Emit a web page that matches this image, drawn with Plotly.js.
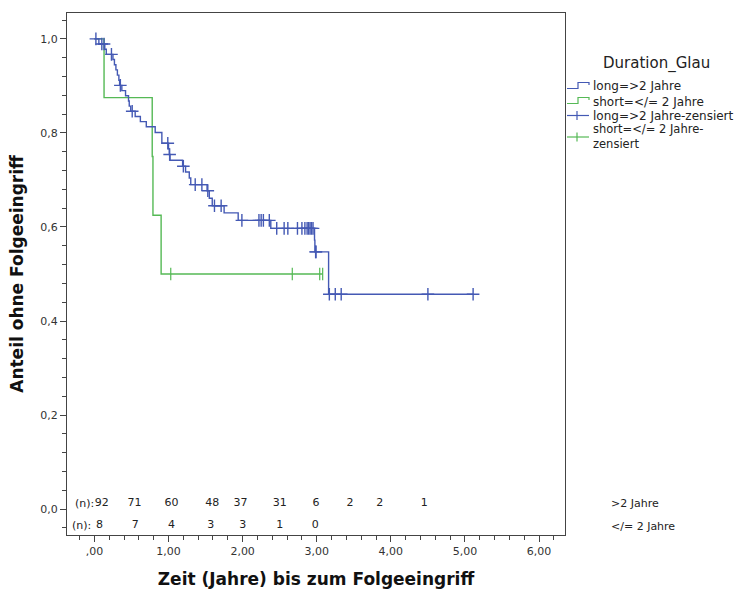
<!DOCTYPE html>
<html>
<head>
<meta charset="utf-8">
<script src="https://cdn.plot.ly/plotly-3.0.1.min.js"></script>
<style>html,body{margin:0;padding:0;background:#fff;}#chart{width:744px;height:592px;}</style>
</head>
<body>
<div id="chart"></div>
<script>
// ---- data ----
const longStepT = [0, 0.06, 0.14, 0.16, 0.25, 0.27, 0.29, 0.31, 0.33, 0.34, 0.37, 0.42, 0.46, 0.47, 0.49, 0.55, 0.62, 0.70, 0.82, 0.91, 1.00, 1.01, 1.02, 1.19, 1.23, 1.28, 1.30, 1.52, 1.55, 1.59, 1.75, 1.94, 2.38, 2.97, 2.975, 3.16];
const longStepS = [1, 0.989, 0.978, 0.967, 0.956, 0.945, 0.934, 0.923, 0.912, 0.901, 0.890, 0.879, 0.868, 0.857, 0.846, 0.835, 0.824, 0.813, 0.801, 0.778, 0.766, 0.754, 0.742, 0.729, 0.717, 0.704, 0.690, 0.677, 0.661, 0.645, 0.630, 0.614, 0.597, 0.572, 0.547, 0.457];
const longCensT = [0.02, 0.10, 0.13, 0.23, 0.35, 0.51, 0.99, 1.015, 1.20, 1.36, 1.45, 1.53, 1.62, 1.71, 1.99, 2.22, 2.25, 2.28, 2.36, 2.46, 2.56, 2.61, 2.74, 2.80, 2.84, 2.87, 2.89, 2.91, 2.93, 2.95, 2.985, 2.99, 3.17, 3.25, 3.33, 4.50, 5.11];

const shortStepT = [0, 0.13, 0.78, 0.79, 0.90];
const shortStepS = [1, 0.875, 0.75, 0.625, 0.5];
const shortCensT = [1.03, 2.67, 3.04, 3.08];

const riskLongT = [0.10, 0.54, 1.04, 1.59, 1.97, 2.50, 2.99, 3.45, 3.85, 4.45];
const riskLongN = [92, 71, 60, 48, 37, 31, 6, 2, 2, 1];
const riskShortT = [0.07, 0.55, 1.04, 1.57, 2.00, 2.50, 2.98];
const riskShortN = [8, 7, 4, 3, 3, 1, 0];

const xTickVals = [0, 1, 2, 3, 4, 5, 6];
const xTickText = [',00', '1,00', '2,00', '3,00', '4,00', '5,00', '6,00'];
const yTickVals = [0, 0.2, 0.4, 0.6, 0.8, 1.0];
const yTickText = ['0,0', '0,2', '0,4', '0,6', '0,8', '1,0'];

// ---- helpers ----
function survAt(ts, ss, t) {
  let s = ss[0];
  for (let i = 0; i < ts.length; i++) { if (ts[i] <= t) s = ss[i]; }
  return s;
}
function curve(ts, ss, tEnd) {
  return { x: ts.concat([tEnd]), y: ss.concat([ss[ss.length - 1]]) };
}

const BLUE = '#4459b4';
const GREEN = '#55b955';
const FONT = 'DejaVu Sans, Verdana, sans-serif';

const longCurve = curve(longStepT, longStepS, longCensT[longCensT.length - 1]);
const shortCurve = curve(shortStepT, shortStepS, shortCensT[shortCensT.length - 1]);

const traces = [
  { x: shortCurve.x, y: shortCurve.y, mode: 'lines', line: { shape: 'hv', color: GREEN, width: 1.4 }, hoverinfo: 'skip' },
  { x: longCurve.x, y: longCurve.y, mode: 'lines', line: { shape: 'hv', color: BLUE, width: 1.4 }, hoverinfo: 'skip' },
  { x: shortCensT, y: shortCensT.map(t => survAt(shortStepT, shortStepS, t)), mode: 'markers',
    marker: { symbol: 'line-ns', size: 9, line: { color: GREEN, width: 1.2 } }, hoverinfo: 'skip' },
  { x: longCensT, y: longCensT.map(t => survAt(longStepT, longStepS, t)), mode: 'markers',
    marker: { symbol: 'cross-thin', size: 9, line: { color: BLUE, width: 1.4 } }, hoverinfo: 'skip' },
  { x: riskLongT, y: riskLongT.map(() => 0.013), mode: 'text', text: riskLongN.map(String),
    textfont: { family: FONT, size: 11, color: '#222222' }, textposition: 'middle center', cliponaxis: false, hoverinfo: 'skip' },
  { x: riskShortT, y: riskShortT.map(() => -0.034), mode: 'text', text: riskShortN.map(String),
    textfont: { family: FONT, size: 11, color: '#222222' }, textposition: 'middle center', cliponaxis: false, hoverinfo: 'skip' }
];

// plot area in pixels: left 67, right 565, top 13, bottom 535
const L = 67, R = 565, T = 13, B = 535;
const px = x => (x - L) / (R - L);
const py = y => (B - y) / (B - T);

const shapes = [
  { type: 'path', xref: 'paper', yref: 'paper', line: { color: BLUE, width: 1.2 },
    path: `M ${px(567)},${py(88.5)} L ${px(578)},${py(88.5)} L ${px(578)},${py(82.5)} L ${px(589)},${py(82.5)} L ${px(589)},${py(85)}` },
  { type: 'path', xref: 'paper', yref: 'paper', line: { color: GREEN, width: 1.2 },
    path: `M ${px(567)},${py(103.5)} L ${px(578)},${py(103.5)} L ${px(578)},${py(97.5)} L ${px(589)},${py(97.5)} L ${px(589)},${py(100)}` },
  { type: 'line', xref: 'paper', yref: 'paper', x0: px(567), x1: px(589), y0: py(115.5), y1: py(115.5), line: { color: BLUE, width: 1.2 } },
  { type: 'line', xref: 'paper', yref: 'paper', x0: px(577), x1: px(577), y0: py(111), y1: py(120), line: { color: BLUE, width: 1.2 } },
  { type: 'line', xref: 'paper', yref: 'paper', x0: px(567), x1: px(589), y0: py(137), y1: py(137), line: { color: GREEN, width: 1.2 } },
  { type: 'line', xref: 'paper', yref: 'paper', x0: px(577), x1: px(577), y0: py(132.5), y1: py(141.5), line: { color: GREEN, width: 1.2 } }
];

const ann = (text, x, y, size, xanchor, extra) => Object.assign({
  text: text, xref: 'paper', yref: 'paper', x: px(x), y: py(y), xanchor: xanchor || 'left', yanchor: 'middle',
  showarrow: false, font: { family: FONT, size: size || 12, color: '#222222' }
}, extra || {});

const annotations = [
  ann('Duration_Glau', 656, 63, 15, 'center'),
  ann('long=&gt;2 Jahre', 591, 86, 12),
  ann('short=&lt;/= 2 Jahre', 591, 101.5, 12),
  ann('long=&gt;2 Jahre-zensiert', 591, 116, 12),
  ann('short=&lt;/= 2 Jahre-<br>zensiert', 591, 136.5, 11.5, 'left', { align: 'left' }),
  ann('(n):', 95.5, 503, 11, 'right'),
  ann('(n):', 93, 525, 11, 'right'),
  ann('&gt;2 Jahre', 609, 503, 11),
  ann('&lt;/= 2 Jahre', 609, 526, 11)
];

const axisCommon = {
  showline: true, mirror: true, linecolor: '#444', linewidth: 1,
  ticks: 'outside', ticklen: 6, tickwidth: 1, tickcolor: '#444',
  showgrid: false, zeroline: false,
  tickfont: { family: FONT, size: 11, color: '#333' }
};

const layout = {
  width: 744, height: 592,
  margin: { l: L, r: 744 - R, t: T, b: 592 - B },
  paper_bgcolor: '#fff', plot_bgcolor: '#fff',
  showlegend: false,
  xaxis: Object.assign({}, axisCommon, {
    range: [-0.37, 6.35], tickmode: 'array', tickvals: xTickVals, ticktext: xTickText,
    minor: { tick0: 0, dtick: 0.2, ticks: 'outside', ticklen: 4, tickcolor: '#444', showgrid: false },
    title: { text: 'Zeit (Jahre) bis zum Folgeeingriff', font: { family: FONT, size: 17, color: '#111', weight: 'bold' }, standoff: 15 }
  }),
  yaxis: Object.assign({}, axisCommon, {
    range: [-0.055, 1.055], tickmode: 'array', tickvals: yTickVals, ticktext: yTickText,
    minor: { tick0: 0, dtick: 0.04, ticks: 'outside', ticklen: 4, tickcolor: '#444', showgrid: false },
    title: { text: 'Anteil ohne Folgeeingriff', font: { family: FONT, size: 17, color: '#111', weight: 'bold' }, standoff: 12 }
  }),
  shapes: shapes,
  annotations: annotations
};

Plotly.newPlot('chart', traces, layout, { staticPlot: true, displayModeBar: false });
</script>
</body>
</html>
